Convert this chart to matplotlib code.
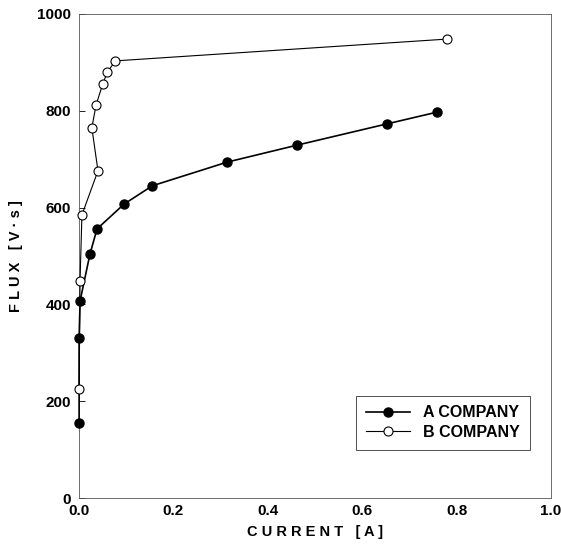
import numpy as np
import matplotlib.pyplot as plt

plt.rcParams['font.family'] = ['Liberation Sans', 'DejaVu Sans']
plt.rcParams['font.weight'] = 'bold'

# magnetisation curves
a_current = [0.0, 0.0, 0.002, 0.023, 0.038, 0.095, 0.155, 0.314, 0.462, 0.653, 0.758]
a_flux = [155, 330, 407, 504, 556, 607, 645, 694, 729, 773, 797]
b_current = [0.0, 0.002, 0.006, 0.040, 0.027, 0.036, 0.050, 0.060, 0.077, 0.780]
b_flux = [225, 449, 585, 676, 765, 812, 855, 880, 903, 948]

xticks = [0.0, 0.2, 0.4, 0.6, 0.8, 1.0]
yticks = [0, 200, 400, 600, 800, 1000]

fig = plt.figure(figsize=(5.61, 5.56), dpi=100)
ax = fig.add_axes([0.141, 0.104, 0.841, 0.871])

ax.plot(a_current, a_flux, color='black', lw=1.2, marker='o', ms=6.5,
        mfc='black', mec='black', label='A COMPANY', zorder=3, clip_on=False)
ax.plot(b_current, b_flux, color='black', lw=0.8, marker='o', ms=6.5,
        mfc='white', mec='black', mew=0.8, label='B COMPANY', zorder=4, clip_on=False)

ax.set_xlim(0, 1.0)
ax.set_ylim(0, 1000)
ax.set_xticks(xticks)
ax.set_yticks(yticks)
ax.set_xticklabels([f'{t:.1f}' for t in xticks], fontsize=11, fontweight='bold')
ax.set_yticklabels([str(t) for t in yticks], fontsize=11, fontweight='bold')
ax.tick_params(axis='x', length=0, pad=4)
ax.tick_params(axis='y', direction='in', length=4, width=0.6, pad=6, left=True)

for s in ax.spines.values():
    s.set_linewidth(0.6)
    s.set_color('#555555')

ax.set_xlabel('C U R R E N T   [ A ]', fontsize=10.5, fontweight='bold', labelpad=5)
ax.set_ylabel('F L U X   [ V · s ]', fontsize=10.5, fontweight='bold', labelpad=10)

leg = ax.legend(loc='lower right', bbox_to_anchor=(0.972, 0.084), fontsize=11.5,
                frameon=True, fancybox=False, edgecolor='black',
                handlelength=2.8, borderpad=0.6, labelspacing=0.3, handletextpad=0.8)
leg.get_frame().set_linewidth(0.6)
for t in leg.get_texts():
    t.set_fontweight('bold')

fig.savefig('out.png', dpi=100)
